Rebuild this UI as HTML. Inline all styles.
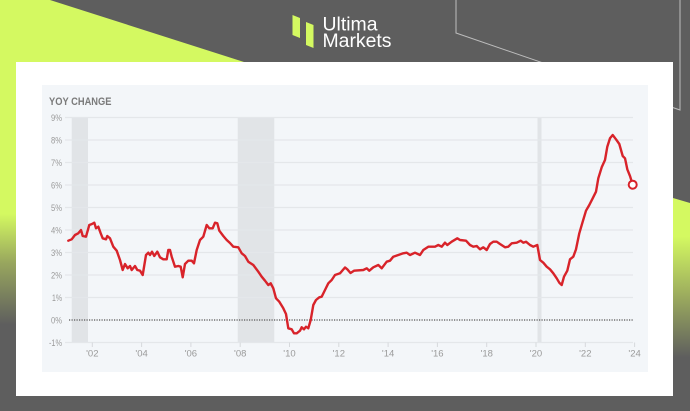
<!DOCTYPE html>
<html><head><meta charset="utf-8"><style>
html,body{margin:0;padding:0;background:#5e5e5e;}
svg{display:block;}
</style></head><body>
<svg width="690" height="411" viewBox="0 0 690 411" xmlns="http://www.w3.org/2000/svg">
<defs>
<linearGradient id="gl" gradientUnits="userSpaceOnUse" x1="0" y1="0" x2="0" y2="411">
<stop offset="0" stop-color="#d4f961"/>
<stop offset="0.52" stop-color="#d4f961"/>
<stop offset="0.64" stop-color="#98a65e"/>
<stop offset="0.79" stop-color="#5e5e5e"/>
</linearGradient>
<linearGradient id="gr" gradientUnits="userSpaceOnUse" x1="0" y1="0" x2="0" y2="411">
<stop offset="0" stop-color="#d4f961"/>
<stop offset="0.575" stop-color="#d4f961"/>
<stop offset="0.73" stop-color="#98a65e"/>
<stop offset="0.87" stop-color="#5e5e5e"/>
</linearGradient>
</defs>
<rect x="0" y="0" width="690" height="411" fill="#5e5e5e"/>
<polygon points="0,0 50,0 244,62 16,62 16,411 0,411" fill="url(#gl)"/>
<polygon points="673,198 690,203 690,411 673,411" fill="url(#gr)"/>
<polyline points="456,0 456,33 680,110 680,0" fill="none" stroke="#bdbdbd" stroke-width="1"/>
<!-- logo -->
<polygon points="292.5,15 300,18 300,38 292.5,35" fill="#d4f961"/>
<polygon points="306,22 313.5,25 313.5,48 306,45" fill="#d4f961"/>
<text x="322.5" y="30.5" font-family="Liberation Sans, sans-serif" font-size="19" fill="#ffffff" textLength="55" lengthAdjust="spacingAndGlyphs">Ultima</text>
<text x="322.5" y="47" font-family="Liberation Sans, sans-serif" font-size="19" fill="#ffffff" textLength="69" lengthAdjust="spacingAndGlyphs">Markets</text>
<!-- card -->
<rect x="16" y="62" width="657" height="334" fill="#ffffff"/>
<rect x="42" y="85" width="606" height="287" fill="#f3f6f9"/>
<text x="49" y="105" font-family="Liberation Sans, sans-serif" font-size="11" font-weight="bold" fill="#7a7a7a" textLength="62.5" lengthAdjust="spacingAndGlyphs">YOY CHANGE</text>
<!-- recessions -->
<rect x="71.7" y="117" width="16.3" height="225.5" fill="#e1e4e7"/>
<rect x="237.7" y="117" width="36.6" height="225.5" fill="#e1e4e7"/>
<rect x="537.5" y="117" width="4" height="225.5" fill="#e1e4e7"/>
<!-- gridlines -->
<g stroke="#e4e7ea" stroke-width="1.3">
<line x1="65" y1="117.5" x2="633" y2="117.5"/>
<line x1="65" y1="140" x2="633" y2="140"/>
<line x1="65" y1="162.5" x2="633" y2="162.5"/>
<line x1="65" y1="185" x2="633" y2="185"/>
<line x1="65" y1="207.5" x2="633" y2="207.5"/>
<line x1="65" y1="230" x2="633" y2="230"/>
<line x1="65" y1="252.5" x2="633" y2="252.5"/>
<line x1="65" y1="275" x2="633" y2="275"/>
<line x1="65" y1="297.5" x2="633" y2="297.5"/>
<line x1="65" y1="342.5" x2="633" y2="342.5"/>
</g>
<line x1="69" y1="320" x2="633" y2="320" stroke="#555" stroke-width="1.3" stroke-dasharray="1.2,1.3"/>
<g stroke="#d6d9dc" stroke-width="1">
<line x1="92.3" y1="342.5" x2="92.3" y2="347"/>
<line x1="141.6" y1="342.5" x2="141.6" y2="347"/>
<line x1="190.9" y1="342.5" x2="190.9" y2="347"/>
<line x1="240.2" y1="342.5" x2="240.2" y2="347"/>
<line x1="289.5" y1="342.5" x2="289.5" y2="347"/>
<line x1="338.8" y1="342.5" x2="338.8" y2="347"/>
<line x1="388.1" y1="342.5" x2="388.1" y2="347"/>
<line x1="437.4" y1="342.5" x2="437.4" y2="347"/>
<line x1="486.7" y1="342.5" x2="486.7" y2="347"/>
<line x1="536" y1="342.5" x2="536" y2="347"/>
<line x1="585.3" y1="342.5" x2="585.3" y2="347"/>
<line x1="634.6" y1="342.5" x2="634.6" y2="347"/>
</g>
<!-- y labels -->
<g font-family="Liberation Sans, sans-serif" font-size="9.5" fill="#9a9a9a" text-anchor="end">
<text x="62" y="121" textLength="11" lengthAdjust="spacingAndGlyphs">9%</text>
<text x="62" y="143.5" textLength="11" lengthAdjust="spacingAndGlyphs">8%</text>
<text x="62" y="166" textLength="11" lengthAdjust="spacingAndGlyphs">7%</text>
<text x="62" y="188.5" textLength="11" lengthAdjust="spacingAndGlyphs">6%</text>
<text x="62" y="211" textLength="11" lengthAdjust="spacingAndGlyphs">5%</text>
<text x="62" y="233.5" textLength="11" lengthAdjust="spacingAndGlyphs">4%</text>
<text x="62" y="256" textLength="11" lengthAdjust="spacingAndGlyphs">3%</text>
<text x="62" y="278.5" textLength="11" lengthAdjust="spacingAndGlyphs">2%</text>
<text x="62" y="301" textLength="10" lengthAdjust="spacingAndGlyphs">1%</text>
<text x="62" y="323.5" textLength="11" lengthAdjust="spacingAndGlyphs">0%</text>
<text x="62" y="346" textLength="13" lengthAdjust="spacingAndGlyphs">-1%</text>
</g>
<!-- x labels -->
<g font-family="Liberation Sans, sans-serif" font-size="9.5" fill="#9a9a9a" text-anchor="middle">
<text x="92.3" y="356.5">'02</text>
<text x="141.6" y="356.5">'04</text>
<text x="190.9" y="356.5">'06</text>
<text x="240.2" y="356.5">'08</text>
<text x="289.5" y="356.5">'10</text>
<text x="338.8" y="356.5">'12</text>
<text x="388.1" y="356.5">'14</text>
<text x="437.4" y="356.5">'16</text>
<text x="486.7" y="356.5">'18</text>
<text x="536" y="356.5">'20</text>
<text x="585.3" y="356.5">'22</text>
<text x="634.6" y="356.5">'24</text>
</g>
<!-- series -->
<polyline fill="none" stroke="#d8232a" stroke-width="2.4" stroke-linejoin="round" stroke-linecap="round" points="68.3,240.7 71.7,239.3 75,235 78.3,233.3 81,230 82.7,236 86,236.7 89.3,225 92,224 94.3,222.7 96,228.3 98.3,226.7 100.7,233.3 102.7,238.3 106,239.3 107.3,236 110,238.3 113.3,246.7 116.7,250.7 120,260 122.7,270 125,264 127.7,268.3 130,266 131.7,270 135,266 137.3,270 140,270.7 142.7,275 146,255 148.3,252.7 150,255 152,251.7 154.3,256 157.3,251.7 160,257.3 163.3,259.3 166.7,259.3 168.3,250 170,250 171.7,256.7 175,266.7 178.3,266 180.7,266.7 182.7,277.3 185,264 188.3,260.7 191.7,260.7 194,263.3 196.7,250 200,240 203.3,236.7 206.7,225 209.3,228.3 212.7,228.3 215,222.7 217.3,223.3 219.3,230.7 223.3,236 226.7,240 230,243 233.3,246.7 238.3,247.3 241.7,253.3 245,256 248.3,261.7 253.3,265 258.3,271.7 261.7,276.7 265,280.7 268.3,285 270.7,283.3 273.3,288.3 276,298.3 279.3,301.7 283.3,308.3 286,314 288.3,328.3 291.7,329.3 294,333.3 296.7,333.3 300,330.7 301.7,327.3 304,329.3 306,326.7 308.3,328.3 310.7,320 313.3,305 316,300 319.3,297.3 321.7,296.7 325,290 328.3,283.3 331.7,280 335,275 340,273.3 345,267.5 347.3,269.3 350.5,273 354,270.7 363.3,270 366.7,268.3 369.3,270.7 373.3,267.3 378.3,265 381.7,268.3 386.7,261.7 390,260.7 393.3,256.7 398.3,255 403.3,253.3 406.7,252.7 410,255 415,252.7 420,255 423.3,250 428.3,246.7 435,246.7 438.3,245 441.7,246.7 445,242.7 447.3,245 451.7,241.7 457.3,238.3 460,240 466,240.7 470,245 473.3,246.7 476.7,246 480,249.3 483.3,247.3 486.7,250 490,244 493.3,241.7 496.7,241.7 500,244 505,247.3 508.3,246.7 511.7,243.3 516.7,242.7 520.7,240.7 523.3,242.7 526,241.7 530,245 533.3,246.7 537.3,245 540,260 543.3,262.7 546.7,266.7 550,269.3 553.3,273.3 556.7,278.3 559.3,282.7 561.7,285 564,276.7 567.3,270.7 570,259.3 573.3,256.7 576,249.3 579.3,233.3 582.7,221.7 586,210.7 589.3,205 592.7,198.3 596,191.7 598.3,178.3 601.7,167.3 605,160 607.3,146.7 610,138.3 612.7,135 616,139.3 619.3,144 622.7,156 625,158.3 627.3,169.3 630,176 632.7,184.7"/>
<circle cx="632.7" cy="184.7" r="4" fill="#ffffff" stroke="#d8232a" stroke-width="2"/>
</svg>
</body></html>
